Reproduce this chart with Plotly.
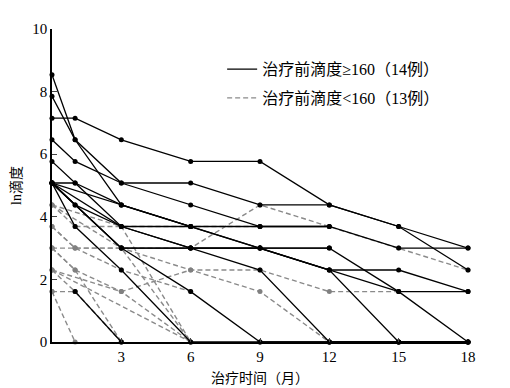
import plotly.graph_objects as go

# Time points (months)
months = [0, 1, 3, 6, 9, 12, 15, 18]

# ln titre, patients with pre-treatment titre >= 160 (solid lines)
high_group = [
    [7.15, 7.15, 6.46, 5.77, 5.77, 4.38, 3.69, 3.0],
    [8.54, 6.46, 4.38, 3.69, 3.0, 2.3, 2.3, 1.61],
    [7.85, 6.46, 5.08, 5.08, 4.38, 4.38, 3.69, 2.3],
    [6.46, 5.77, 5.08, 4.38, 3.69, 3.69, 3.0, 3.0],
    [5.77, 5.08, 4.38, 3.69, 3.0, 2.3, 1.61, 1.61],
    [5.08, 5.08, 3.69, 3.0, 3.0, 3.0, 1.61, 0],
    [5.08, 4.38, 3.69, 3.0, 3.0, 2.3, 0, 0],
    [5.08, 3.69, 2.3, 0, 0, 0, 0, 0],
    [5.08, None, 3.0, 1.61, 0, 0, 0, 0],
    [5.08, None, 3.0, 3.0, 2.3, 0, 0, 0],
    [None, 1.61, 0, None, None, None, None, None],
    [5.08, 4.38, 3.0, 3.0, 3.0, 3.0, None, None],
    [5.08, None, 3.69, 3.69, 3.69, 3.69, None, None],
    [5.08, None, 4.38, 3.69, None, None, None, None],
]

# ln titre, patients with pre-treatment titre < 160 (dashed lines)
low_group = [
    [4.38, 3.69, 3.69, 3.69, 3.69, None, None, None],
    [3.69, 3.0, 3.0, 3.0, 4.38, 3.69, 3.0, 2.3],
    [3.0, 3.0, 3.0, 0, None, None, None, None],
    [4.38, None, 3.69, 0, None, None, None, None],
    [3.0, 2.3, 1.61, 0, None, None, None, None],
    [1.61, 1.61, 0, None, None, None, None, None],
    [1.61, 0, None, None, None, None, None, None],
    [3.69, 3.0, 2.3, 1.61, None, None, None, None],
    [4.38, None, 3.0, 2.3, 1.61, 0, None, None],
    [2.3, 1.61, 0, None, None, None, None, None],
    [2.3, None, 1.61, 2.3, 2.3, 1.61, 1.61, None],
    [3.0, 2.3, 0, None, None, None, None, None],
    [2.3, None, None, 0, None, None, None, None],
]

legend_high = "治疗前滴度≥160（14例）"
legend_low = "治疗前滴度<160（13例）"
x_title = "治疗时间（月）"
y_title = "ln滴度"
x_ticks = [3, 6, 9, 12, 15, 18]
y_ticks = [0, 2, 4, 6, 8, 10]

SERIF = "Liberation Serif, Times New Roman, Noto Sans CJK SC, serif"
GRAY = "#8a8a8a"

fig = go.Figure()

for vals in low_group:
    fig.add_trace(go.Scatter(
        x=months, y=vals, mode="lines+markers", connectgaps=True,
        line=dict(color=GRAY, width=1.4, dash="5px,3px"),
        marker=dict(color="#808080", size=5),
        showlegend=False, cliponaxis=False, hoverinfo="skip"))

for vals in high_group:
    fig.add_trace(go.Scatter(
        x=months, y=vals, mode="lines+markers", connectgaps=True,
        line=dict(color="black", width=1.3),
        marker=dict(color="black", size=5),
        showlegend=False, cliponaxis=False, hoverinfo="skip"))

# legend entries
fig.add_trace(go.Scatter(x=[None], y=[None], mode="lines", name=legend_high,
                         legendgroup="a",
                         line=dict(color="black", width=1.3)))
fig.add_trace(go.Scatter(x=[None], y=[None], mode="lines", name=legend_low,
                         legendgroup="b",
                         line=dict(color=GRAY, width=1.4, dash="5px,3px")))

fig.update_layout(
    width=502, height=380,
    margin=dict(l=44, r=42, t=21, b=46),
    paper_bgcolor="white", plot_bgcolor="white",
    font=dict(family=SERIF, size=14, color="black"),
    legend=dict(x=0.409, y=0.926, xanchor="left", yanchor="top",
                bgcolor="rgba(0,0,0,0)", font=dict(size=16, family=SERIF),
                tracegroupgap=5, itemwidth=30),
    xaxis=dict(range=[0, 18], tickvals=x_ticks, ticks="inside", ticklen=4,
               showline=True, linecolor="black", linewidth=1.5, showgrid=False,
               zeroline=False, tickfont=dict(size=15, family=SERIF), automargin=False,
               title=dict(text=x_title, font=dict(size=14, family=SERIF), standoff=9)),
    yaxis=dict(range=[0, 10], tickvals=y_ticks, ticks="inside", ticklen=5,
               showline=True, linecolor="black", linewidth=1.5, showgrid=False,
               zeroline=False, tickfont=dict(size=15, family=SERIF), automargin=False,
               title=dict(text=y_title, font=dict(size=14, family=SERIF), standoff=8)),
)

fig.write_html("out.html")
